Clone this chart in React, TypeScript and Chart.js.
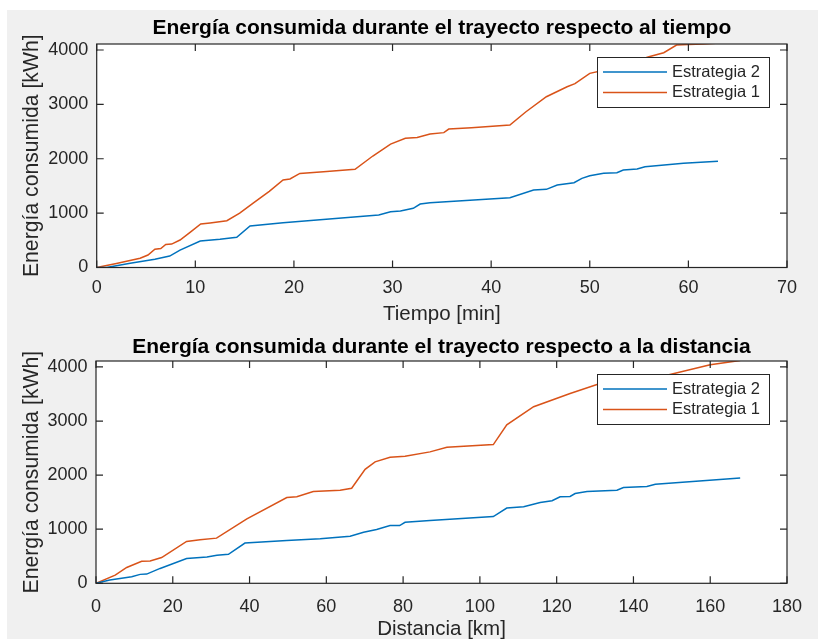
import React, { useEffect, useRef } from 'react';
import { Chart, registerables } from 'chart.js';

Chart.register(...registerables);

const FONT = "'Liberation Sans', Arial, Helvetica, sans-serif";
Chart.defaults.font.family = FONT;

const BLUE = '#0072BD';
const ORANGE = '#D95319';
const AXIS = '#262626';

// ---------- Data: energy vs time ----------
const tiempoE2 = [0, 1, 3.4, 5.9, 7.4, 8.45, 10.5, 12.5, 14.2, 15.55, 18.9, 26.4, 28.6, 29.8, 30.8, 32.1, 32.8, 33.8, 41.9, 44.3, 45.6, 46.7, 48.4, 49.2, 50.0, 51.4, 52.75, 53.4, 54.8, 55.6, 59.5, 63.0];
const energiaTiempoE2 = [0, 0, 77, 150, 210, 320, 487, 518, 555, 763, 823, 934, 965, 1026, 1040, 1088, 1167, 1190, 1283, 1425, 1437, 1517, 1560, 1640, 1688, 1732, 1743, 1792, 1811, 1853, 1915, 1955];

const tiempoE1 = [0, 2, 4.4, 5.2, 5.9, 6.5, 7.0, 7.6, 8.45, 9.5, 10.55, 11.5, 13.2, 14.5, 15.9, 17.5, 18.9, 19.6, 20.6, 23, 26.2, 28, 29.8, 31.3, 32.5, 33.8, 35.2, 35.7, 38, 41.9, 43.5, 45.6, 47.7, 48.5, 50.0, 52, 54, 56, 57.5, 58.8, 60, 61.5, 62.9];
const energiaTiempoE1 = [0, 75, 170, 230, 335, 350, 425, 430, 505, 650, 800, 820, 860, 1000, 1190, 1400, 1610, 1627, 1730, 1760, 1805, 2050, 2270, 2375, 2390, 2455, 2480, 2545, 2570, 2620, 2860, 3140, 3323, 3380, 3570, 3650, 3760, 3875, 3950, 4090, 4100, 4110, 4125];

// ---------- Data: energy vs distance ----------
const distE2 = [0, 3.6, 9.3, 11.5, 13.2, 16.7, 23.6, 28.9, 31.5, 34.5, 38.8, 49.7, 58.4, 66.2, 69.7, 73.1, 76.6, 79.1, 80.5, 87, 103.5, 107, 111.4, 115.7, 118.8, 120.9, 123.5, 124.8, 127.9, 135.7, 137.4, 143.5, 145.7, 167.8];
const energiaDistE2 = [0, 60, 122, 165, 170, 275, 458, 487, 518, 537, 744, 793, 824, 872, 945, 994, 1068, 1068, 1128, 1160, 1233, 1392, 1416, 1495, 1526, 1600, 1605, 1659, 1696, 1722, 1770, 1788, 1832, 1945];

const distE1 = [0, 5, 8, 11.9, 14.1, 17.1, 23.6, 27.1, 31.4, 39.3, 49.7, 52.3, 56.6, 63.6, 66.6, 70.1, 72.7, 76.6, 80.5, 87, 91.4, 103.5, 107, 114, 123.5, 130.5, 140, 147.9, 160, 167.8];
const energiaDistE1 = [0, 152, 293, 408, 414, 476, 775, 806, 835, 1190, 1586, 1600, 1696, 1722, 1758, 2106, 2245, 2331, 2350, 2430, 2515, 2564, 2930, 3265, 3510, 3675, 3760, 3833, 4040, 4120];

// ---------- Ticks / labels ----------
const xTicksTiempo = [0, 10, 20, 30, 40, 50, 60, 70];
const xTicksDist = [0, 20, 40, 60, 80, 100, 120, 140, 160, 180];
const yTicks = [0, 1000, 2000, 3000, 4000];
const yMax = 4110;
const seriesLabels = ['Estrategia 2', 'Estrategia 1'];

function pts(xs: number[], ys: number[]) {
  return xs.map((x, i) => ({ x, y: ys[i] }));
}

const plain = (v: any) => String(v);

const matlabAxes = {
  id: 'matlabAxes',
  beforeDraw(chart: any) {
    const { ctx, chartArea: a } = chart;
    ctx.save();
    ctx.fillStyle = '#ffffff';
    ctx.fillRect(a.left, a.top, a.right - a.left, a.bottom - a.top);
    ctx.restore();
  },
  afterDraw(chart: any) {
    const { ctx, chartArea: a, scales } = chart;
    const L = a.left, R = a.right, T = a.top, B = a.bottom;
    ctx.save();
    ctx.strokeStyle = AXIS;
    ctx.lineWidth = 1.2;
    ctx.strokeRect(L, T, R - L, B - T);
    const tl = 7;
    ctx.beginPath();
    scales.x.ticks.forEach((t: any) => {
      const px = scales.x.getPixelForValue(t.value);
      ctx.moveTo(px, B);
      ctx.lineTo(px, B - tl);
      ctx.moveTo(px, T);
      ctx.lineTo(px, T + tl);
    });
    scales.y.ticks.forEach((t: any) => {
      const py = scales.y.getPixelForValue(t.value);
      ctx.moveTo(L, py);
      ctx.lineTo(L + tl, py);
      ctx.moveTo(R, py);
      ctx.lineTo(R - tl, py);
    });
    ctx.stroke();

    // legend box (MATLAB style, inside top-right)
    const w = 172, h = 50;
    const bx = R - 18 - w;
    const by = T + 13;
    ctx.fillStyle = '#ffffff';
    ctx.fillRect(bx, by, w, h);
    ctx.lineWidth = 1;
    ctx.strokeStyle = AXIS;
    ctx.strokeRect(bx + 0.5, by + 0.5, w, h);
    const rows = [15, 35.6];
    ctx.font = `16.5px ${FONT}`;
    ctx.textBaseline = 'middle';
    ctx.textAlign = 'left';
    chart.data.datasets.forEach((ds: any, i: number) => {
      const y = by + rows[i];
      ctx.strokeStyle = ds.borderColor;
      ctx.lineWidth = 1.5;
      ctx.beginPath();
      ctx.moveTo(bx + 6, y);
      ctx.lineTo(bx + 70, y);
      ctx.stroke();
      ctx.fillStyle = AXIS;
      ctx.fillText(ds.label, bx + 75, y);
    });
    ctx.restore();
  },
};

interface Cfg {
  title: string;
  xTitle: string;
  xMax: number;
  xTicks: number[];
  series2: { x: number; y: number }[];
  series1: { x: number; y: number }[];
  yWidth: number;
  xHeight: number;
  tickPad: number;
  xTitlePad: number;
  titlePadTop: number;
  titlePadBottom: number;
}

function makeConfig(c: Cfg): any {
  return {
    type: 'line',
    data: {
      datasets: [
        { label: seriesLabels[0], data: c.series2, borderColor: BLUE, backgroundColor: BLUE, borderWidth: 1.5, pointRadius: 0, tension: 0, fill: false },
        { label: seriesLabels[1], data: c.series1, borderColor: ORANGE, backgroundColor: ORANGE, borderWidth: 1.5, pointRadius: 0, tension: 0, fill: false },
      ],
    },
    options: {
      responsive: false,
      animation: false,
      events: [],
      layout: { padding: { left: 0, right: 31, top: 0, bottom: 0 } },
      plugins: {
        legend: { display: false },
        tooltip: { enabled: false },
        title: {
          display: true,
          text: c.title,
          color: '#000000',
          fullSize: false,
          font: { size: 21, weight: 'bold', family: FONT, lineHeight: 1.2 },
          padding: { top: c.titlePadTop, bottom: c.titlePadBottom },
        },
      },
      scales: {
        x: {
          type: 'linear',
          min: 0,
          max: c.xMax,
          afterBuildTicks: (s: any) => { s.ticks = c.xTicks.map((v) => ({ value: v })); },
          afterFit: (s: any) => { s.height = c.xHeight; },
          ticks: { color: AXIS, font: { size: 18, family: FONT }, padding: c.tickPad, maxRotation: 0, autoSkip: false, callback: plain },
          grid: { display: false, drawTicks: false },
          border: { display: false },
          title: { display: true, text: c.xTitle, color: AXIS, font: { size: 20.5, family: FONT, lineHeight: 1.2 }, padding: { top: 0, bottom: c.xTitlePad } },
        },
        y: {
          type: 'linear',
          min: 0,
          max: yMax,
          afterBuildTicks: (s: any) => { s.ticks = yTicks.map((v) => ({ value: v })); },
          afterFit: (s: any) => { s.width = c.yWidth; },
          ticks: { color: AXIS, font: { size: 18, family: FONT }, padding: 8.4, callback: plain },
          grid: { display: false, drawTicks: false },
          border: { display: false },
          title: { display: true, text: 'Energía consumida [kWh]', color: AXIS, font: { size: 21.2, family: FONT, lineHeight: 1.2 }, padding: { top: 12.6, bottom: 0 } },
        },
      },
    },
    plugins: [matlabAxes],
  };
}

function ChartCanvas({ config, width, height, top }: { config: any; width: number; height: number; top: number }) {
  const ref = useRef<HTMLCanvasElement>(null);
  useEffect(() => {
    const chart = new Chart(ref.current as HTMLCanvasElement, config);
    return () => chart.destroy();
  }, []);
  return (
    <canvas
      ref={ref}
      width={width}
      height={height}
      style={{ position: 'absolute', left: 0, top, width, height, display: 'block' }}
    />
  );
}

export default function App() {
  const topCfg = makeConfig({
    title: 'Energía consumida durante el trayecto respecto al tiempo',
    xTitle: 'Tiempo [min]',
    xMax: 70,
    xTicks: xTicksTiempo,
    series2: pts(tiempoE2, energiaTiempoE2),
    series1: pts(tiempoE1, energiaTiempoE1),
    yWidth: 89.7,
    xHeight: 62.5,
    tickPad: 10,
    xTitlePad: 3.4,
    titlePadTop: 5.6,
    titlePadBottom: 3.2,
  });
  const bottomCfg = makeConfig({
    title: 'Energía consumida durante el trayecto respecto a la distancia',
    xTitle: 'Distancia [km]',
    xMax: 180,
    xTicks: xTicksDist,
    series2: pts(distE2, energiaDistE2),
    series1: pts(distE1, energiaDistE1),
    yWidth: 89,
    xHeight: 76.7,
    tickPad: 12.5,
    xTitlePad: 18.4,
    titlePadTop: 4.9,
    titlePadBottom: 0.9,
  });
  return (
    <div
      style={{
        position: 'fixed',
        left: 7,
        top: 10,
        width: 811,
        height: 629,
        background: '#f0f0f0',
        overflow: 'hidden',
      }}
    >
      <ChartCanvas config={topCfg} width={811} height={320} top={0} />
      <ChartCanvas config={bottomCfg} width={811} height={330} top={320} />
    </div>
  );
}
